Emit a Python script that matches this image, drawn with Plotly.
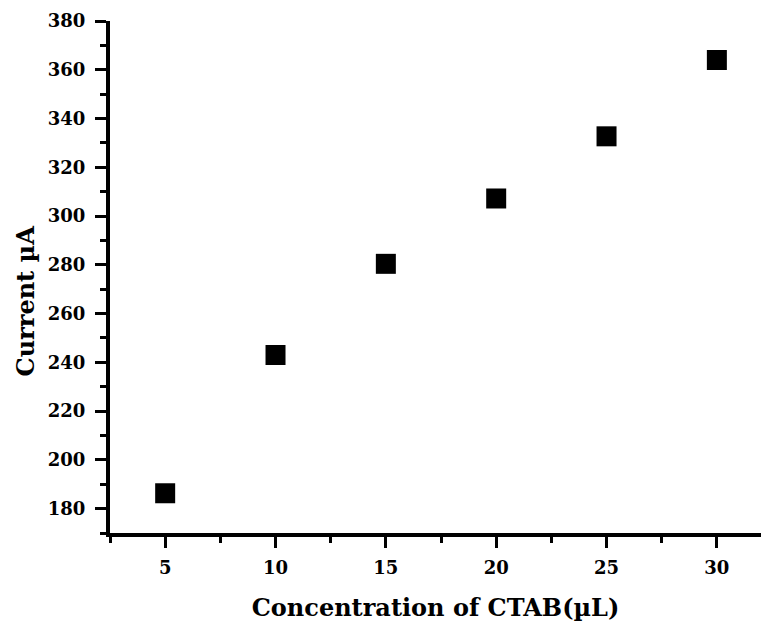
import plotly.graph_objects as go

# CTAB volume (µL) and measured peak current (µA)
ctab_volume = [5, 10, 15, 20, 25, 30]
current_ua = [186.3, 243.0, 280.4, 307.2, 332.7, 364.0]

x_tick_vals = [5, 10, 15, 20, 25, 30]
y_tick_vals = [180, 200, 220, 240, 260, 280, 300, 320, 340, 360, 380]

font_family = "DejaVu Serif"

fig = go.Figure(
    go.Scatter(
        x=ctab_volume,
        y=current_ua,
        mode="markers",
        marker=dict(symbol="square", size=20, color="black", line=dict(width=0)),
        showlegend=False,
    )
)

axis_common = dict(
    showline=True,
    linecolor="black",
    linewidth=4,
    showgrid=False,
    zeroline=False,
    mirror=False,
    ticks="outside",
    ticklen=11,
    tickwidth=3,
    tickcolor="black",
    tickfont=dict(family=font_family, size=18, color="black", weight="bold"),
)

fig.update_xaxes(
    range=[2.5, 32],
    tickvals=x_tick_vals,
    ticklabelstandoff=4,
    minor=dict(ticks="outside", ticklen=6, tickwidth=3, tickcolor="black", dtick=2.5, tick0=2.5),
    title=dict(
        text="Concentration of CTAB(µL)",
        font=dict(family=font_family, size=24, color="black", weight="bold"),
        standoff=24,
    ),
    **axis_common,
)
fig.update_yaxes(
    range=[170, 380],
    tickvals=y_tick_vals,
    ticklabelstandoff=6,
    minor=dict(ticks="outside", ticklen=6, tickwidth=3, tickcolor="black", dtick=10, tick0=170),
    **axis_common,
)

# Y-axis title placed as a rotated annotation, sitting a little below the axis midpoint
fig.add_annotation(
    text="Current µA",
    xref="paper",
    yref="paper",
    x=-0.13,
    y=0.453,
    xanchor="center",
    yanchor="middle",
    textangle=-90,
    showarrow=False,
    font=dict(family=font_family, size=24, color="black", weight="bold"),
)

fig.update_layout(
    width=763,
    height=625,
    margin=dict(l=110, r=2, t=21, b=92),
    paper_bgcolor="white",
    plot_bgcolor="white",
)

fig.write_html("out.html")
